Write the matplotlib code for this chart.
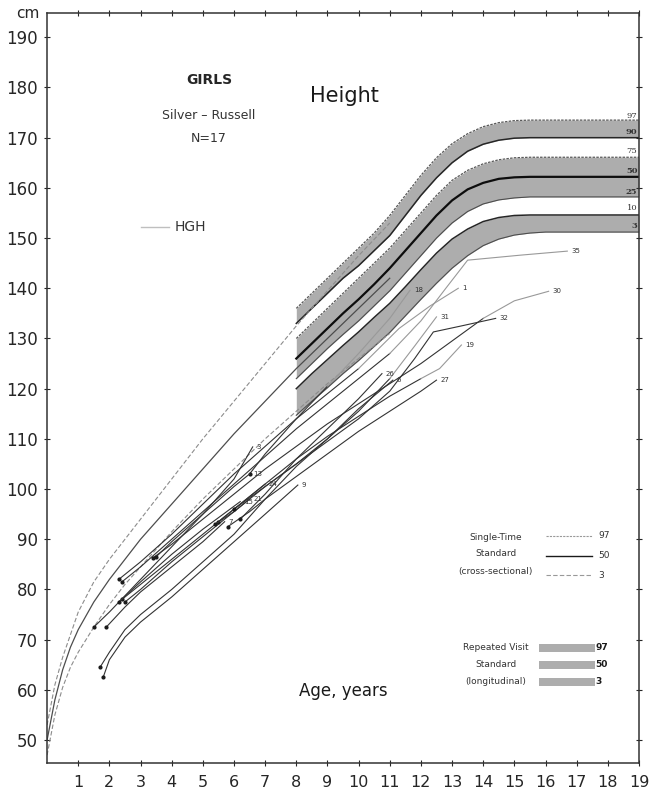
import numpy as np
import matplotlib.pyplot as plt

# longitudinal (repeated visit) standard, ages 8-19
band_age = [8, 8.5, 9, 9.5, 10, 10.5, 11, 11.5, 12, 12.5, 13, 13.5, 14, 14.5, 15, 15.5, 16, 17, 18, 19]
p97 = [136, 139, 142, 145, 148, 151, 154.5, 158.5, 162.5, 166, 168.8, 170.8, 172.2, 173, 173.4, 173.5, 173.5, 173.5, 173.5, 173.5]
p90 = [133, 136, 139, 142, 144.5, 147.5, 150.5, 154.5, 158.5, 162, 165, 167.3, 168.7, 169.5, 169.9, 170, 170, 170, 170, 170]
p75 = [130, 133, 136, 139, 142, 145, 148, 151.5, 155, 158.5, 161.5, 163.5, 164.8, 165.6, 166, 166.1, 166.1, 166.1, 166.1, 166.1]
p50 = [126, 129, 132, 135, 137.8, 140.8, 144, 147.5, 151, 154.5, 157.5, 159.7, 161, 161.8, 162.1, 162.2, 162.2, 162.2, 162.2, 162.2]
p25 = [122, 125, 128, 130.8, 133.5, 136.5, 139.5, 143, 146.5, 150, 153, 155.3, 156.8, 157.6, 158, 158.2, 158.2, 158.2, 158.2, 158.2]
p10 = [120, 123, 125.8, 128.6, 131.3, 134.2, 137, 140.3, 143.7, 147, 149.8, 151.8, 153.3, 154.1, 154.5, 154.6, 154.6, 154.6, 154.6, 154.6]
p3 = [114.7, 117.5, 120.2, 123, 125.6, 128.4, 131.2, 134.5, 137.8, 141, 144, 146.5, 148.5, 149.8, 150.6, 151, 151.2, 151.2, 151.2, 151.2]

# single-time (cross-sectional) standard, birth to 11
cs_age = [0, 0.25, 0.5, 0.75, 1, 1.5, 2, 2.5, 3, 4, 5, 6, 7, 8, 9, 10, 11]
cs97 = [53, 61, 66.5, 71, 75.5, 81.5, 86, 90, 94, 102, 110, 117.5, 125, 132.5, 139.5, 146.5, 153]
cs50 = [50, 58, 64, 68.5, 72, 77.5, 82, 86, 90, 97, 104, 111, 117.5, 124, 130, 136, 142]
cs3 = [47, 55, 60.5, 64.5, 67.5, 72.5, 77, 81, 84.5, 91.5, 98, 104, 110, 115.5, 121, 126, 131]

# Silver-Russell girls: (ages, heights, label, HGH from this index on or None)
patients = [
    ([2.3, 3, 4, 5, 6, 7, 8, 9, 10, 11.3, 12.3, 13.2], [82, 85.5, 91, 97, 103, 108.5, 114, 119, 124, 132, 136.5, 140], "1", 8),
    ([2.4, 3, 4, 5, 6, 7, 8, 9, 10, 11, 12, 12.8, 13.5, 15.2, 16.7], [81.5, 84.5, 90, 95.5, 101, 106.5, 112, 117, 122, 127, 133.5, 140, 145.6, 146.6, 147.4], "35", 9),
    ([3.4, 4, 5, 6, 7, 8, 9, 10, 11, 12, 13, 14, 15, 16.1], [86.3, 89, 94, 99, 104, 108.5, 113, 117, 121, 125, 129.5, 134, 137.5, 139.4], "30", 11),
    ([2.4, 3, 4, 5, 6, 7, 8, 9, 10, 11, 11.8, 12.4, 13.3, 14.4], [78, 81, 86, 91, 96, 100.5, 105, 109.5, 114, 119.5, 126, 131.3, 132.5, 134], "32", None),
    ([2.5, 3, 4, 5, 6, 7, 8, 9, 10, 11, 11.8, 12.5], [77.5, 80, 85.5, 90.5, 95.5, 100.5, 105, 110, 115.5, 122, 128.5, 134.3], "31", 9),
    ([5.5, 6, 7, 8, 9, 10, 11, 12, 12.6, 13.3], [93.5, 96, 101, 106, 110.5, 114.5, 118.5, 122, 124, 128.7], "19", 7),
    ([5.8, 6.5, 7, 8, 9, 10, 11, 12, 12.5], [92.5, 95.5, 98, 102.5, 107, 111.5, 115.5, 119.5, 121.7], "27", None),
    ([1.7, 2, 2.5, 3, 4, 5, 6, 7, 8, 9, 10, 11.1], [64.5, 67.5, 72, 75, 80, 85.5, 91, 98, 104.5, 110, 116, 121.7], "6", None),
    ([6.2, 7, 8, 9, 10, 10.75], [94, 99, 106, 112, 118, 123], "26", None),
    ([1.5, 2, 3, 4, 5, 6, 6.6], [72.5, 75.5, 82, 88.5, 95, 102, 108.4], "3", None),
    ([1.8, 2, 2.5, 3, 4, 5, 6, 7, 8.05], [62.5, 66, 70.5, 73.5, 78.5, 84, 89.5, 95, 100.8], "9", None),
    ([6.5, 7, 8, 9, 10, 11, 11.65], [103, 107, 114, 120.5, 127, 134, 139.6], "18", 3),
    ([1.9, 2.5, 3, 4, 5, 5.7], [72.5, 76.5, 79.5, 84.5, 89.5, 93.5], "7", None),
    ([2.3, 3, 4, 5, 6.2], [77.5, 81.5, 87, 92, 97.5], "15", None),
    ([3.5, 4, 5, 6, 6.5], [86.5, 89.5, 95, 100.5, 103], "13", None),
    ([5.4, 6, 6.5], [93, 95.5, 98], "21", None),
    ([6, 6.5, 7], [96, 98.5, 101], "24", None),
]

fig = plt.figure(figsize=(6.54, 7.90), dpi=100)
ax = fig.add_axes([0.072, 0.034, 0.905, 0.9493])
ax.set_xlim(0, 19)
ax.set_ylim(45.4, 194.8)

band_col = "0.68"
ax.fill_between(band_age, p90, p97, color=band_col, lw=0)
ax.fill_between(band_age, p25, p75, color=band_col, lw=0)
ax.fill_between(band_age, p3, p10, color=band_col, lw=0)
ax.plot(band_age, p97, color="0.35", lw=0.9, ls=(0, (2, 1)))
ax.plot(band_age, p90, color="0.15", lw=1.1)
ax.plot(band_age, p75, color="0.35", lw=0.9, ls=(0, (2, 1)))
ax.plot(band_age, p50, color="0.05", lw=1.6)
ax.plot(band_age, p25, color="0.3", lw=0.8)
ax.plot(band_age, p10, color="0.15", lw=1.1)
ax.plot(band_age, p3, color="0.3", lw=0.8)

ax.plot(cs_age, cs97, color="0.55", lw=0.8, ls=(0, (4, 2)))
ax.plot(cs_age, cs50, color="0.3", lw=0.9)
ax.plot(cs_age, cs3, color="0.55", lw=0.8, ls=(0, (4, 2)))

for ages, hts, lab, hgh in patients:
    if hgh is None:
        ax.plot(ages, hts, color="0.2", lw=0.8)
    else:
        ax.plot(ages[:hgh + 1], hts[:hgh + 1], color="0.2", lw=0.8)
        ax.plot(ages[hgh:], hts[hgh:], color="0.6", lw=0.8)
    ax.plot(ages[0], hts[0], "o", ms=2, color="0.1")
    ax.text(ages[-1] + 0.12, hts[-1], lab, fontsize=5, color="0.2", va="center", ha="left")

# percentile numbers at right edge
pct_labels = [("97", p97[-1] + 0.8, False), ("90", p90[-1] + 1.2, True), ("75", p75[-1] + 1.2, False),
              ("50", p50[-1] + 1.2, True), ("25", p25[-1] + 1.0, True), ("10", p10[-1] + 1.3, False),
              ("3", p3[-1] + 1.3, True)]
for t, y, bold in pct_labels:
    ax.text(18.95, y, t, fontsize=6, ha="right", va="center", family="DejaVu Serif",
            fontweight="bold" if bold else "normal", color="0.2")

ax.text(5.2, 181.5, "GIRLS", fontsize=10, fontweight="bold", ha="center", va="center", color="0.15")
ax.text(5.2, 174.5, "Silver – Russell", fontsize=9, ha="center", va="center", color="0.2")
ax.text(5.2, 169.9, "N=17", fontsize=9, ha="center", va="center", color="0.2")
ax.plot([3.0, 3.9], [152.2, 152.2], color="0.75", lw=1)
ax.text(4.6, 152.2, "HGH", fontsize=10, ha="center", va="center", color="0.2")
ax.text(9.55, 178.3, "Height", fontsize=15, ha="center", va="center", color="0.1")
ax.text(9.5, 59.7, "Age, years", fontsize=12, ha="center", va="center", color="0.1")

# legend: single-time standard
for y, t in [(90.3, "Single-Time"), (87.2, "Standard"), (83.5, "(cross-sectional)")]:
    ax.text(14.4, y, t, fontsize=6.5, ha="center", va="center", color="0.2")
ax.plot([16.0, 17.5], [90.7, 90.7], color="0.6", lw=0.8, ls=(0, (2, 1)))
ax.plot([16.0, 17.5], [86.7, 86.7], color="0.1", lw=1.0)
ax.plot([16.0, 17.5], [82.8, 82.8], color="0.6", lw=0.8, ls=(0, (4, 2)))
for y, t in [(90.7, "97"), (86.7, "50"), (82.8, "3")]:
    ax.text(17.7, y, t, fontsize=6.5, ha="left", va="center", color="0.2")

# legend: repeated visit standard
for y, t in [(68.4, "Repeated Visit"), (65.0, "Standard"), (61.6, "(longitudinal)")]:
    ax.text(14.4, y, t, fontsize=6.5, ha="center", va="center", color="0.2")
for y, t in [(68.4, "97"), (65.0, "50"), (61.6, "3")]:
    ax.fill_between([15.8, 17.6], y - 0.8, y + 0.8, color=band_col, lw=0)
    ax.text(17.6, y, t, fontsize=6.5, ha="left", va="center", fontweight="bold", color="0.1")

ax.set_xticks(range(1, 20))
ax.set_yticks(range(50, 191, 10))
ax.tick_params(direction="inout", length=5, width=0.8, labelsize=12, colors="0.15", pad=4,
               top=True, right=True)
ax.tick_params(axis="x", labelsize=11.5, pad=6)
for s in ax.spines.values():
    s.set_color("0.2")
    s.set_linewidth(1.1)
fig.text(0.043, 0.983, "cm", fontsize=11, ha="center", va="center", color="0.15")

fig.savefig("out.png", dpi=100)
